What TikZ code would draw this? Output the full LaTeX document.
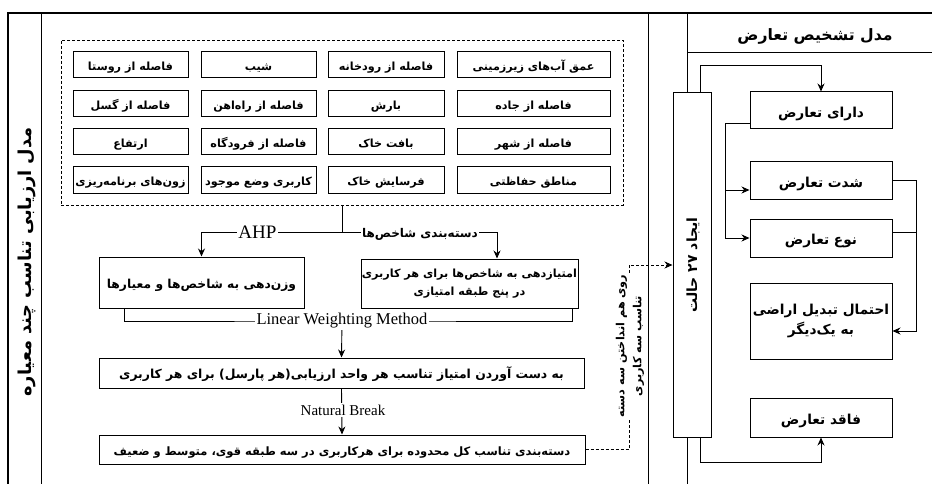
\documentclass[tikz,border=0pt]{standalone}
\usepackage{fontspec}
\setmainfont{Liberation Serif}
\newfontfamily\arabicfont[Script=Arabic]{DejaVu Sans}
\TeXXeTstate=1
\newcommand\FaTxt[1]{{\arabicfont\bfseries\beginR #1\endR}}
\newcommand\FaSize[1]{\arabicfont\bfseries\fontsize{#1}{#1}\selectfont}
\usetikzlibrary{arrows.meta}
\begin{document}
\begin{tikzpicture}[x=1pt,y=-1pt,
  every node/.style={inner sep=0pt},
  frame/.style={line width=2.4pt},
  rule/.style={line width=0.9pt},
  conn/.style={line width=0.9pt},
  arr/.style={conn,-{Stealth[length=8pt,width=7pt]}},
  dconn/.style={conn,dash pattern=on 3pt off 2pt,-{Stealth[length=8pt,width=7pt]}},
  oneline/.style={text height=11.5pt,text depth=0pt},
  crit/.style={draw,line width=1pt,minimum height=26pt,oneline,font=\FaSize{11.2}},
  cA/.style={crit,minimum width=115pt},
  cB/.style={crit,minimum width=116pt},
  cC/.style={crit,minimum width=153pt},
  pbox/.style={draw,line width=1pt,fill=white,align=center},
  rbox/.style={draw,line width=1pt,fill=white,align=center,minimum width=142pt,font=\FaSize{13.7}\linespread{1.5}\selectfont},
  lbl/.style={fill=white,inner sep=1.5pt},
  falbl/.style={fill=white,inner sep=1.5pt}]
\useasboundingbox (0,0) rectangle (932,484);
% frame
\draw[frame] (8,490) -- (8,13) -- (940,13);
\draw[rule] (41,13) -- (41,490);
\draw[rule] (648,13) -- (648,490);
\draw[rule] (687,13) -- (687,490);
\draw[rule] (687,52) -- (940,52);
\node[text height=15pt,text depth=0pt,font=\FaSize{15.7}] (hdr) at (815,33) {\FaTxt{مدل تشخیص تعارض}};
\node[rotate=90,text height=12pt,text depth=0pt,font=\FaSize{17.8}] (ltitle) at (25,262) {\FaTxt{مدل ارزیابی تناسب چند معیاره}};
% criteria group
\node[draw,line width=0.8pt,dash pattern=on 3pt off 2pt,minimum width=562pt,minimum height=165pt] (group) at (342,122.5) {};
\node[cC] (k11) at (533.5,65) {\FaTxt{عمق آب^^^^200cهای زیرزمینی}};
\node[cB] (k12) at (386,65) {\FaTxt{فاصله از رودخانه}};
\node[cA] (k13) at (258.5,65) {\FaTxt{شیب}};
\node[cA] (k14) at (130.5,65) {\FaTxt{فاصله از روستا}};
\node[cC] (k21) at (533.5,104) {\FaTxt{فاصله از جاده}};
\node[cB] (k22) at (386,104) {\FaTxt{بارش}};
\node[cA] (k23) at (258.5,104) {\FaTxt{فاصله از راه^^^^200cاهن}};
\node[cA] (k24) at (130.5,104) {\FaTxt{فاصله از گسل}};
\node[cC] (k31) at (533.5,142) {\FaTxt{فاصله از شهر}};
\node[cB] (k32) at (386,142) {\FaTxt{بافت خاک}};
\node[cA] (k33) at (258.5,142) {\FaTxt{فاصله از فرودگاه}};
\node[cA] (k34) at (130.5,142) {\FaTxt{ارتفاع}};
\node[cC] (k41) at (533.5,180) {\FaTxt{مناطق حفاظتی}};
\node[cB] (k42) at (386,180) {\FaTxt{فرسایش خاک}};
\node[cA] (k43) at (258.5,180) {\FaTxt{کاربری وضع موجود}};
\node[cA] (k44) at (130.5,180) {\FaTxt{زون^^^^200cهای برنامه^^^^200cریزی}};
% process boxes
\node[pbox,oneline,font=\FaSize{12.3},minimum width=205pt,minimum height=51pt] (wbox) at (201.5,282.5) {\FaTxt{وزن^^^^200cدهی به شاخص^^^^200cها و معیارها}};
\node[pbox,font=\FaSize{11.2}\linespread{1.6}\selectfont,minimum width=217pt,minimum height=49pt] (sbox) at (469.5,283.5) {\FaTxt{امتیازدهی به شاخص^^^^200cها برای هر کاربری}\\\FaTxt{در پنج طبقه امتیازی}};
\node[pbox,oneline,font=\FaSize{12.4},minimum width=485pt,minimum height=30pt] (midbox) at (341.5,373) {\FaTxt{به دست آوردن امتیاز تناسب هر واحد ارزیابی(هر پارسل) برای هر کاربری}};
\node[pbox,oneline,font=\FaSize{11.5},minimum width=486pt,minimum height=29pt] (botbox) at (342,449.5) {\FaTxt{دسته^^^^200cبندی تناسب کل محدوده برای هرکاربری در سه طبقه قوی، متوسط و ضعیف}};
% connectors of the left model
\coordinate (split) at (342,232);
\coordinate (lw) at (342,321);
\draw[conn] (group.south) -- (split);
\draw[arr] (split) -| (wbox.north);
\draw[arr] (split) -| ([xshift=27.5pt]sbox.north);
\draw[conn] ([xshift=-77.5pt]wbox.south) |- (lw) -| ([xshift=102.5pt]sbox.south);
\draw[arr] (lw) -- (midbox.north);
\draw[arr] (midbox.south) -- (botbox.north);
\node[lbl,font=\fontsize{19}{21}\selectfont] (ahp) at (257.5,232) {AHP};
\node[falbl,text height=11pt,text depth=0pt,font=\FaSize{12}] (dasteh) at (420,232) {\FaTxt{دسته^^^^200cبندی شاخص^^^^200cها}};
\node[lbl,font=\fontsize{16.5}{18}\selectfont] (lwm) at (lw) {Linear Weighting Method};
\node[lbl,font=\fontsize{15}{17}\selectfont] (nb) at (343,410) {Natural Break};
% right model
\node[draw,line width=1pt,fill=white,minimum width=38pt,minimum height=344pt] (ijad) at (692,265) {};
\node[rotate=90,text height=10pt,text depth=0pt,font=\FaSize{14}] (ijadtxt) at (ijad.center) {\FaTxt{ایجاد ۲۷ حالت}};
\node[rbox,text height=13.5pt,text depth=0pt,minimum height=37pt] (dara) at (821,110.5) {\FaTxt{دارای تعارض}};
\node[rbox,text height=13.5pt,text depth=0pt,minimum height=37pt] (shedat) at (821,180.5) {\FaTxt{شدت تعارض}};
\node[rbox,text height=13.5pt,text depth=0pt,minimum height=38pt] (now) at (821,238) {\FaTxt{نوع تعارض}};
\node[rbox,minimum height=76pt] (ehtemal) at (821,321) {\FaTxt{احتمال تبدیل اراضی}\\\FaTxt{به یک^^^^200cدیگر}};
\node[rbox,text height=13.5pt,text depth=0pt,minimum height=39pt] (faqed) at (821,417.5) {\FaTxt{فاقد تعارض}};
% dashed link
\coordinate (cdash) at (629,265);
\draw[dconn] (botbox.east) -| (cdash) -- (ijad.west);
\node[falbl,rotate=90,align=center,font=\FaSize{11.2}\linespread{1.5}\selectfont] (overlay) at (630,346) {\FaTxt{روی هم انداختن سه دسته}\\\FaTxt{تناسب سه کاربری}};
% right connectors
\draw[arr] ([xshift=8pt]ijad.north) -- ++(0,-27) -| (dara.north);
\draw[arr] ([xshift=8pt]ijad.south) -- ++(0,25) -| (faqed.south);
\coordinate (clb) at (725,238);
\coordinate (clm) at (725,190);
\draw[arr] ([yshift=-12.5pt]dara.west) -| (clb) -- (now.west);
\draw[arr] (clm) -- (clm -| shedat.west);
\coordinate (crb) at (916,331);
\draw[arr] (shedat.east) -| (crb) -- (crb -| ehtemal.east);
\draw[conn] ([yshift=6pt]now.east) -- ([yshift=6pt]now.east -| crb);
\end{tikzpicture}
\end{document}
